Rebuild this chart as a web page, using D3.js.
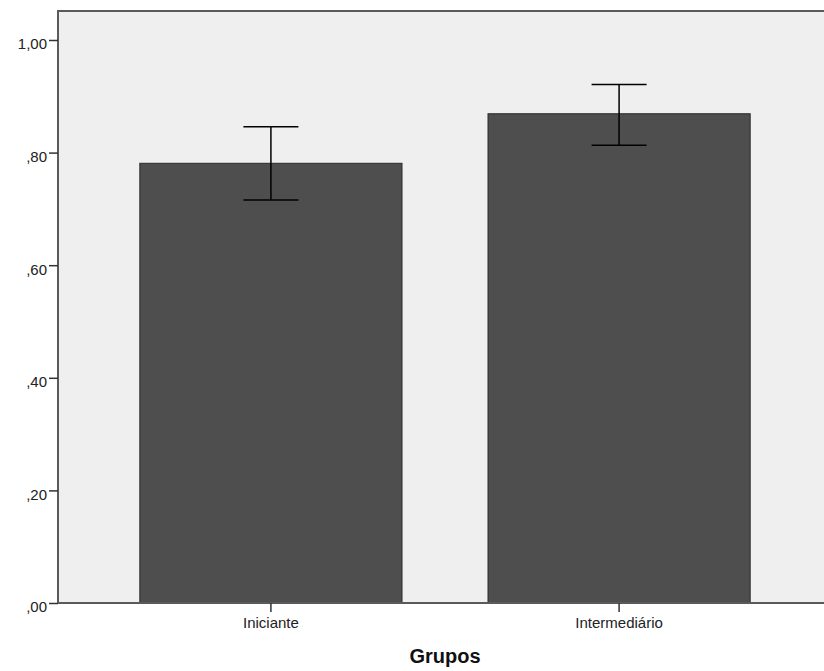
<!DOCTYPE html>
<html>
<head>
<meta charset="utf-8">
<script src="https://cdn.jsdelivr.net/npm/d3@7"></script>
<style>
body { margin: 0; background: #fff; }
svg { display: block; font-family: "Liberation Sans", Arial, sans-serif; }
</style>
</head>
<body>
<svg width="824" height="671"></svg>
<script>
var grupos = ['Iniciante', 'Intermediário'];
var medias = [0.781, 0.869];
var limInf = [0.716, 0.813];
var limSup = [0.846, 0.921];
var yTicks = [0, 0.2, 0.4, 0.6, 0.8, 1.0];

var svg = d3.select('svg');

var mLeft = 58, mTop = 11, mBottom = 603, mRight = 832;

var x = d3.scaleBand()
    .domain(grupos)
    .range([mLeft, mRight])
    .paddingInner(0.247)
    .paddingOuter(0.235);

var y = d3.scaleLinear()
    .domain([0, 1.0515])
    .range([mBottom, mTop]);

// fundo
svg.append('rect')
    .attr('x', mLeft)
    .attr('y', mTop)
    .attr('width', mRight - mLeft)
    .attr('height', mBottom - mTop)
    .attr('fill', '#efefef');

svg.selectAll('.bar')
    .data(grupos)
    .enter()
    .append('rect')
    .attr('class', 'bar')
    .attr('x', function(d){ return x(d); })
    .attr('y', function(d, i){ return y(medias[i]); })
    .attr('width', x.bandwidth())
    .attr('height', function(d, i){ return mBottom - y(medias[i]); })
    .attr('fill', '#4e4e4e')
    .attr('stroke', '#2a2a2a')
    .attr('stroke-width', 1);

// barras de erro
var cap = 27.5;
var err = svg.selectAll('.err')
    .data(grupos)
    .enter()
    .append('g')
    .attr('class', 'err')
    .attr('stroke', '#000')
    .attr('stroke-width', 1.5);

err.append('line')
    .attr('x1', function(d){ return x(d) + x.bandwidth() / 2; })
    .attr('x2', function(d){ return x(d) + x.bandwidth() / 2; })
    .attr('y1', function(d, i){ return y(limInf[i]); })
    .attr('y2', function(d, i){ return y(limSup[i]); });

err.append('line')
    .attr('x1', function(d){ return x(d) + x.bandwidth() / 2 - cap; })
    .attr('x2', function(d){ return x(d) + x.bandwidth() / 2 + cap; })
    .attr('y1', function(d, i){ return y(limSup[i]); })
    .attr('y2', function(d, i){ return y(limSup[i]); });

err.append('line')
    .attr('x1', function(d){ return x(d) + x.bandwidth() / 2 - cap; })
    .attr('x2', function(d){ return x(d) + x.bandwidth() / 2 + cap; })
    .attr('y1', function(d, i){ return y(limInf[i]); })
    .attr('y2', function(d, i){ return y(limInf[i]); });

// moldura
svg.append('rect')
    .attr('x', mLeft)
    .attr('y', mTop)
    .attr('width', mRight - mLeft)
    .attr('height', mBottom - mTop)
    .attr('fill', 'none')
    .attr('stroke', '#5a5a5a')
    .attr('stroke-width', 2);

// eixos
var fmt = function(v){
    var s = d3.format('.2f')(v).replace('.', ',');
    return s.charAt(0) === '0' ? s.slice(1) : s;
};

var yAxis = svg.append('g')
    .attr('transform', 'translate(' + mLeft + ',0)')
    .call(d3.axisLeft(y).tickValues(yTicks).tickFormat(fmt).tickSize(9).tickPadding(2).tickSizeOuter(0));
yAxis.select('.domain').remove();
yAxis.selectAll('line').attr('stroke', '#333').attr('stroke-width', 1.5);
yAxis.selectAll('text').attr('font-size', 15).attr('fill', '#222').attr('dy', '0.59em')
    .attr('font-family', '"Liberation Sans", Arial, sans-serif');

var xAxis = svg.append('g')
    .attr('transform', 'translate(0,' + mBottom + ')')
    .call(d3.axisBottom(x).tickSize(9).tickPadding(5).tickSizeOuter(0));
xAxis.select('.domain').remove();
xAxis.selectAll('line').attr('stroke', '#333').attr('stroke-width', 1.5);
xAxis.selectAll('text').attr('font-size', 15).attr('fill', '#222').attr('dy', '0.71em')
    .attr('font-family', '"Liberation Sans", Arial, sans-serif');

svg.append('text')
    .attr('x', 445)
    .attr('y', 663)
    .attr('text-anchor', 'middle')
    .attr('font-size', 20)
    .attr('font-weight', 'bold')
    .attr('fill', '#111')
    .text('Grupos');
</script>
</body>
</html>
